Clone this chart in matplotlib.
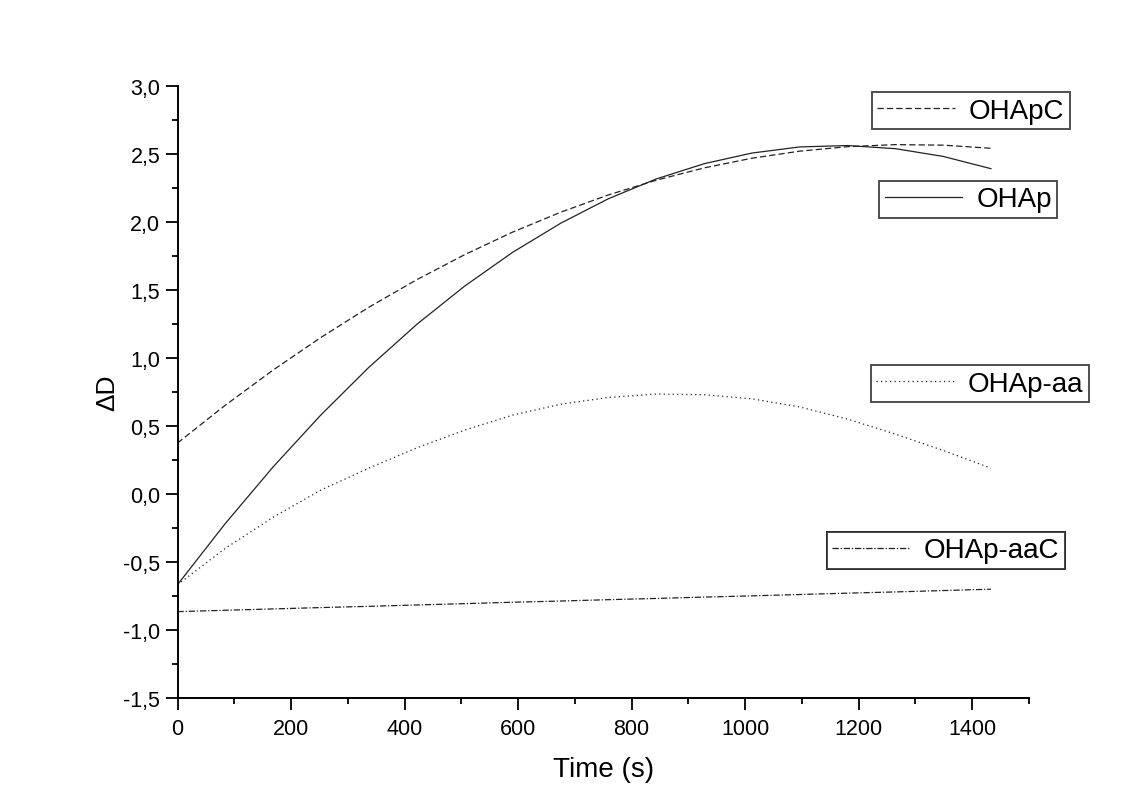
import numpy as np
import matplotlib
matplotlib.use("Agg")
import matplotlib.pyplot as plt
from matplotlib.ticker import MultipleLocator, FuncFormatter

plt.rcParams['font.family'] = ['Liberation Sans', 'DejaVu Sans']

# time axis (s), sampled as in the original export
time_s = [0, 84, 169, 253, 337, 422, 506, 590, 675, 759, 843, 928,
          1012, 1096, 1181, 1265, 1349, 1433]

# Delta D for each sample
ohapc = [0.375, 0.652, 0.913, 1.152, 1.373, 1.577, 1.760, 1.925, 2.072,
         2.199, 2.307, 2.398, 2.469, 2.521, 2.554, 2.569, 2.565, 2.542]
ohap = [-0.667, -0.218, 0.202, 0.583, 0.931, 1.249, 1.529, 1.776, 1.991,
        2.171, 2.316, 2.429, 2.507, 2.552, 2.562, 2.539, 2.482, 2.392]
ohap_aa = [-0.667, -0.40, -0.17, 0.03, 0.19, 0.34, 0.47, 0.58, 0.66,
           0.71, 0.735, 0.73, 0.70, 0.64, 0.55, 0.44, 0.32, 0.19]
ohap_aac = [-0.865, -0.855, -0.845, -0.835, -0.826, -0.816, -0.806, -0.796,
            -0.787, -0.777, -0.768, -0.758, -0.749, -0.739, -0.729, -0.720,
            -0.710, -0.700]

labels = ["OHApC", "OHAp", "OHAp-aa", "OHAp-aaC"]
# upper-left corner of each legend box, figure fraction
legend_pos = [(0.7707, 0.8855), (0.7772, 0.7762), (0.7698, 0.5493), (0.7309, 0.3440)]

W, H = 1131, 812
fig = plt.figure(figsize=(W / 100, H / 100), dpi=100)
ax = fig.add_axes([177.5 / W, 1 - 699 / H, (1029 - 177.5) / W, (699 - 87) / H])

lw = 0.9
l1, = ax.plot(time_s, ohapc, color="#222222", lw=lw, dashes=(5, 2.5))
l2, = ax.plot(time_s, ohap, color="#222222", lw=lw)
l3, = ax.plot(time_s, ohap_aa, color="#222222", lw=lw, dashes=(1, 2.6))
l4, = ax.plot(time_s, ohap_aac, color="#222222", lw=lw, dashes=(5, 1.5, 1, 1.5))

ax.set_xlim(0, 1500)
ax.set_ylim(-1.5, 3.0)
ax.xaxis.set_major_locator(MultipleLocator(200))
ax.xaxis.set_minor_locator(MultipleLocator(100))
ax.yaxis.set_major_locator(MultipleLocator(0.5))
ax.yaxis.set_minor_locator(MultipleLocator(0.25))
ax.yaxis.set_major_formatter(FuncFormatter(lambda v, p: f"{v:.1f}".replace(".", ",")))

for side in ["top", "right"]:
    ax.spines[side].set_visible(False)
for side in ["left", "bottom"]:
    ax.spines[side].set_linewidth(1.4)

ax.tick_params(which="major", direction="out", length=8.4, width=1.3, labelsize=15.5, pad=4)
ax.tick_params(which="minor", direction="out", length=4.3, width=1.3)
ax.tick_params(axis="x", which="major", pad=6)

ax.set_xlabel("Time (s)", fontsize=20, labelpad=12)
ax.set_ylabel("ΔD", fontsize=19, labelpad=3)

for line, lab, pos in zip([l1, l2, l3, l4], labels, legend_pos):
    leg = ax.legend([line], [lab], loc="upper left", bbox_to_anchor=pos,
                    bbox_transform=fig.transFigure, fontsize=20, frameon=True,
                    fancybox=False, edgecolor="#222222", borderpad=0.2,
                    handlelength=2.8, handletextpad=0.5, borderaxespad=0)
    leg.get_frame().set_linewidth(1.4)
    ax.add_artist(leg)

fig.savefig("out.png", dpi=100, facecolor="white")
